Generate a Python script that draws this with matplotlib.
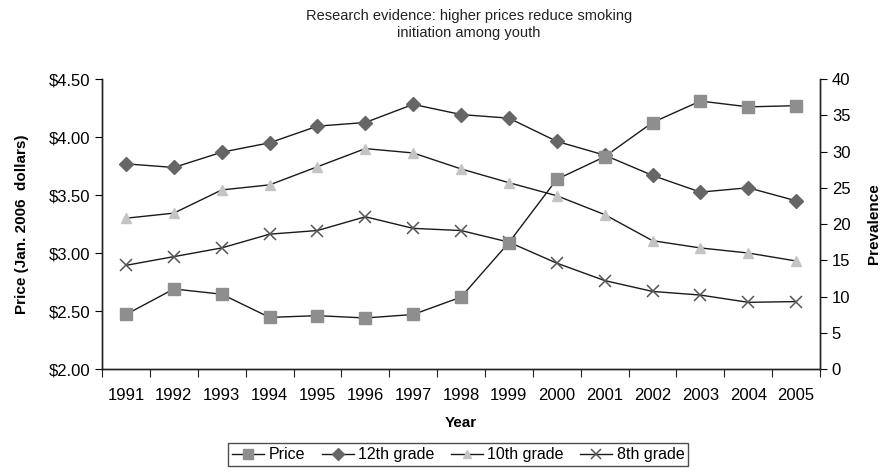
import numpy as np
import matplotlib.pyplot as plt

years = list(range(1991, 2006))
price = [2.47, 2.69, 2.645, 2.445, 2.46, 2.44, 2.47, 2.62, 3.09, 3.635,
         3.83, 4.125, 4.31, 4.26, 4.27]
grade12 = [28.3, 27.8, 29.9, 31.2, 33.5, 34.0, 36.5, 35.1, 34.6, 31.4,
           29.5, 26.7, 24.4, 25.0, 23.2]
grade10 = [20.8, 21.5, 24.7, 25.4, 27.9, 30.4, 29.8, 27.6, 25.7, 23.9,
           21.3, 17.7, 16.7, 16.0, 14.9]
grade8 = [14.3, 15.5, 16.7, 18.6, 19.1, 21.0, 19.4, 19.1, 17.5, 14.6,
          12.2, 10.7, 10.2, 9.2, 9.3]

plt.rcParams['font.family'] = ['Liberation Sans', 'DejaVu Sans']
plt.rcParams['font.size'] = 11

fig = plt.figure(figsize=(8.85, 4.72), dpi=100)
ax = fig.add_axes([0.1153, 0.2182, 0.8113, 0.6144])
ax2 = ax.twinx()

line_kw = dict(color='#1a1a1a', linewidth=1.0)
hp, = ax.plot(years, price, marker='s', markersize=9, markerfacecolor='#8e8e8e',
              markeredgecolor='#8e8e8e', label='Price', **line_kw)
h12, = ax2.plot(years, grade12, marker='D', markersize=7, markerfacecolor='#666666',
                markeredgecolor='#666666', label='12th grade', **line_kw)
h10, = ax2.plot(years, grade10, marker='^', markersize=7, markerfacecolor='#c4c4c4',
                markeredgecolor='#c4c4c4', label='10th grade', **line_kw)
h8, = ax2.plot(years, grade8, marker='x', markersize=9, markeredgecolor='#555555',
               markeredgewidth=1.1, label='8th grade', **line_kw)
ax.set_zorder(ax2.get_zorder() + 1)
ax.patch.set_visible(False)

ax.set_xlim(years[0] - 0.5, years[-1] + 0.5)
ax.set_xticks(np.arange(years[0] - 0.5, years[-1] + 1.0, 1.0))
ax.set_xticklabels([])
ax.set_xticks(years, minor=True)
ax.set_xticklabels([str(y) for y in years], minor=True)
ax.tick_params(axis='x', which='major', length=6, direction='out', color='#222222')
ax.tick_params(axis='x', which='minor', length=0, pad=14, labelsize=12)

ax.set_ylim(2.0, 4.5)
ax.set_yticks(np.arange(2.0, 4.51, 0.5))
ax.set_yticklabels([f'${v:.2f}' for v in np.arange(2.0, 4.51, 0.5)])
ax.tick_params(axis='y', length=5, direction='out', labelsize=12)
ax2.set_ylim(0, 40)
ax2.set_yticks(range(0, 41, 5))
ax2.tick_params(axis='y', length=5, direction='out', labelsize=12)

for a in (ax, ax2):
    a.spines['top'].set_visible(False)
    for s in ('left', 'right', 'bottom'):
        a.spines[s].set_color('#222222')
        a.spines[s].set_linewidth(1.0)

ax.set_ylabel('Price (Jan. 2006  dollars)', fontweight='bold', fontsize=11, labelpad=14)
ax2.set_ylabel('Prevalence', fontweight='bold', fontsize=11, labelpad=12)
ax.set_xlabel('Year', fontweight='bold', fontsize=11, labelpad=9)

fig.suptitle('Research evidence: higher prices reduce smoking\ninitiation among youth',
             x=0.53, y=0.98, fontsize=10.5, linespacing=1.25, color='#222222')

leg = fig.legend(handles=[hp, h12, h10, h8], loc='lower center',
                 bbox_to_anchor=(0.518, -0.005), ncol=4, frameon=True, fancybox=False,
                 edgecolor='#222222', fontsize=11.5, handlelength=2.0,
                 handletextpad=0.3, columnspacing=1.0, borderpad=0.25,
                 markerscale=0.85)
leg.get_frame().set_linewidth(1.0)

fig.savefig('out.png', dpi=100)
